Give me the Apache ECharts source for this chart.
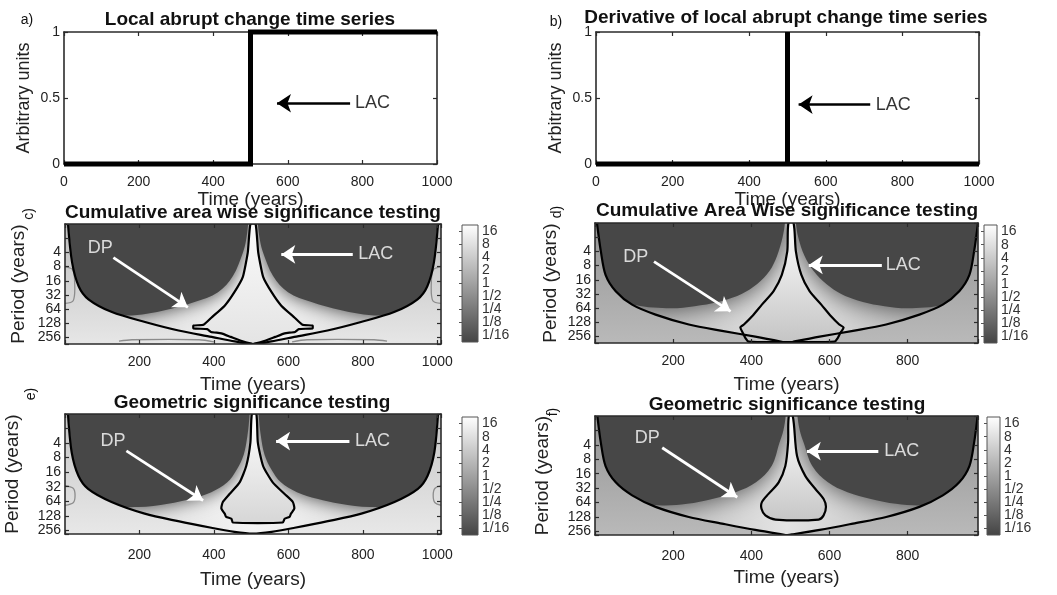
<!DOCTYPE html>
<html lang="en">
<head>
<meta charset="UTF-8">
<title>Local abrupt change - wavelet significance testing</title>
<script src="https://cdn.jsdelivr.net/npm/echarts@6/dist/echarts.min.js"></script>
<style>
    html, body { margin: 0; padding: 0; background: #fff; }
    #main { width: 1057px; height: 595px; }
</style>
</head>
<body>
<div id="main"></div>
<script>
// ---- values ----
// a) step series and b) its derivative (time in years)
var stepTime = [0, 500, 500, 1000];
var stepValue = [0, 0, 1, 1];
var spikeTime = [0, 500, 500, 500, 1000];
var spikeValue = [0, 0, 1, 0, 0];

// scalogram y = log2(period), labelled from 2 to 8
var periodLabels = ['4', '8', '16', '32', '64', '128', '256'];
// colour bar, log2(power) from -4 to 4
var powerLabels = ['1/16', '1/8', '1/4', '1/2', '1', '2', '4', '8', '16'];

// cone of influence [year, log2 period]
var coiC = [[8,0],[19,2.7],[37,4.4],[63,5.3],[126,6.2],[215,6.9],[305,7.5],[394,7.95],[456,8.27],[505,8.45],[554,8.27],[616,7.95],[705,7.5],[795,6.9],[884,6.2],[947,5.3],[973,4.4],[991,2.7],[1002,0]];
var coiD = [[5,0],[15,2.0],[27,3.65],[53,4.8],[95,5.75],[155,6.45],[240,7.15],[325,7.6],[410,8.0],[478,8.36],[492,8.45],[507,8.36],[575,8.0],[660,7.6],[745,7.15],[830,6.45],[890,5.75],[932,4.8],[958,3.65],[970,2.0],[980,0]];
var coiE = [[8,0],[18,2.65],[36,4.25],[62,5.15],[125,6.05],[214,6.85],[304,7.37],[393,7.82],[455,8.1],[505,8.22],[555,8.1],[617,7.82],[706,7.37],[796,6.85],[885,6.05],[948,5.15],[974,4.25],[992,2.65],[1002,0]];
var coiF = [[6,0],[15,1.86],[27,3.47],[53,4.6],[95,5.5],[155,6.3],[240,7.0],[325,7.46],[410,7.9],[478,8.2],[492,8.25],[507,8.2],[575,7.9],[660,7.46],[745,7.0],[830,6.3],[890,5.5],[932,4.6],[958,3.47],[970,1.86],[979,0]];

// significance contours (closed)
var sigC = [[498,0],[491,2.0],[478,3.7],[455,4.8],[429,5.75],[393,6.6],[372,7.1],[345,7.15],[345,7.35],[382,7.4],[392,7.6],[420,7.7],[445,7.95],[475,8.25],[505,8.45],[535,8.25],[565,7.95],[590,7.7],[618,7.6],[628,7.4],[665,7.35],[665,7.15],[638,7.1],[617,6.6],[581,5.75],[555,4.8],[532,3.7],[519,2.0],[512,0]];
var sigD = [[495,0],[492,2.0],[478,3.66],[457,4.8],[427,5.75],[402,6.57],[381,7.15],[372,7.34],[378,7.73],[385,8.1],[393,8.35],[500,8.38],[613,8.35],[621,8.1],[628,7.73],[636,7.36],[625,7.15],[604,6.57],[579,5.75],[549,4.8],[528,3.66],[514,2.0],[508,0]];
var sigE = [[502,0],[498,1.97],[487,3.56],[469,4.7],[442,5.5],[424,6.05],[420,6.5],[429,6.85],[433,7.07],[447,7.2],[451,7.46],[585,7.46],[590,7.2],[603,7.07],[607,6.85],[616,6.5],[612,6.05],[590,5.5],[558,4.7],[532,3.56],[518,1.97],[514,0]];
var sigF = [[496,0],[494,1.86],[487,3.47],[470,4.6],[444,5.4],[427,5.97],[426,6.43],[436,6.89],[462,7.18],[572,7.18],[585,6.89],[591,6.3],[585,5.75],[564,5.06],[538,4.15],[517,2.78],[506,0]];

// edge of the dark (1/16) lobes, left and right
var darkCL = [[-10,-0.5],[492,-0.5],[492,0],[486,1.2],[478,2.0],[451,3.66],[411,4.8],[348,5.5],[268,6.08],[187,6.43],[126,6.3],[81,5.75],[40,5.2],[-10,4.6]];
var darkCR = [[1020,-0.5],[518,-0.5],[518,0],[524,1.2],[532,2.0],[559,3.66],[599,4.8],[662,5.5],[742,6.08],[823,6.43],[884,6.3],[929,5.75],[970,5.2],[1020,4.6]];
var darkDL = [[-10,-0.5],[486,-0.5],[486,0],[480,1.0],[466,2.3],[446,3.4],[415,4.3],[375,5.0],[330,5.45],[270,5.8],[210,6.0],[150,5.95],[100,5.75],[55,5.3],[-10,4.6]];
var darkDR = [[990,-0.5],[514,-0.5],[514,0],[520,1.0],[536,2.3],[560,3.4],[592,4.3],[630,5.0],[672,5.45],[726,5.8],[784,6.0],[844,5.95],[894,5.75],[939,5.3],[990,4.6]];
var darkEL = [[-10,-0.5],[496,-0.5],[496,0],[490,1.5],[480,2.8],[462,3.8],[436,4.7],[393,5.38],[339,5.83],[277,6.17],[197,6.4],[124,6.3],[80,5.85],[35,5.0],[-10,4.5]];
var darkER = [[1020,-0.5],[520,-0.5],[520,0],[526,1.5],[536,2.8],[554,3.8],[580,4.7],[623,5.38],[677,5.83],[739,6.17],[819,6.4],[892,6.3],[936,5.85],[981,5.0],[1020,4.5]];
var darkFL = [[-10,-0.5],[488,-0.5],[488,0],[482,1.0],[472,1.86],[452,3.47],[412,4.6],[360,5.29],[300,5.75],[236,6.09],[172,6.2],[95,6.0],[53,5.3],[-10,4.4]];
var darkFR = [[990,-0.5],[518,-0.5],[518,0],[524,1.0],[534,1.86],[556,3.47],[596,4.6],[646,5.29],[706,5.75],[770,6.09],[834,6.2],[911,6.0],[953,5.3],[990,4.4]];

// faint grey contours
var greyC = [
    [[-5,3.0],[20,3.2],[26,4.1],[22,5.4],[-5,5.6]],
    [[1015,3.0],[990,3.2],[984,4.1],[988,5.4],[1015,5.6]],
    [[145,8.25],[180,8.15],[360,8.15],[400,8.3]],
    [[865,8.25],[830,8.15],[650,8.15],[610,8.3]]
];
var greyE = [
    [[-5,4.9],[22,5.1],[27,5.6],[22,6.1],[-5,6.3]],
    [[1015,4.9],[994,5.1],[989,5.6],[994,6.1],[1015,6.3]]
];

// annotation arrows [tail, head] and their labels
var arrowsA = [[[767,0.46],[571,0.46]]];
var labelsA = [{name: 'LAC', value: [827,0.46]}];
var arrowsB = [[[716,0.45],[529,0.45]]];
var labelsB = [{name: 'LAC', value: [776,0.45]}];
var arrowsC = [[[130,2.37],[330,5.87]], [[773,2.14],[581,2.14]]];
var labelsC = [{name: 'DP', value: [95,1.67]}, {name: 'LAC', value: [835,2.14]}];
var arrowsD = [[[151,2.72],[347,6.22]], [[734,2.95],[547,2.95]]];
var labelsD = [{name: 'DP', value: [104,2.37]}, {name: 'LAC', value: [789,2.95]}];
var arrowsE = [[[165,2.54],[371,5.95]], [[764,1.86],[567,1.86]]];
var labelsE = [{name: 'DP', value: [129,1.86]}, {name: 'LAC', value: [826,1.86]}];
var arrowsF = [[[172,2.2],[364,5.63]], [[725,2.44],[542,2.44]]];
var labelsF = [{name: 'DP', value: [134,1.52]}, {name: 'LAC', value: [785,2.44]}];

// ---- chart building ----
var FONT = '"Liberation Sans", Arial, sans-serif';
var DARK = '#474747';
var grid = [], xAxis = [], yAxis = [], series = [], graphic = [];

function vgrad(a, b) {
    return new echarts.graphic.LinearGradient(0, 0, 0, 1, [{offset: 0, color: a}, {offset: 1, color: b}]);
}
function hgrad(edge, mid) {
    return new echarts.graphic.LinearGradient(0, 0, 1, 0, [
        {offset: 0, color: edge}, {offset: 0.5, color: mid}, {offset: 1, color: edge}]);
}

function valueAxis(gi, pos, o, withLabels) {
    return {
        gridIndex: gi, type: 'value', position: pos, z: 10,
        min: o.min, max: o.max, interval: o.interval, inverse: !!o.inverse,
        splitLine: {show: false},
        axisLine: {show: true, onZero: false, lineStyle: {color: '#2b2b2b', width: 1.6}},
        axisTick: {show: true, inside: true, length: 4, lineStyle: {color: '#2b2b2b', width: 1.2}},
        axisLabel: withLabels ? {show: true, formatter: o.fmt, margin: o.margin, fontSize: 14, fontFamily: FONT, color: '#222'} : {show: false},
        name: withLabels ? o.name : '',
        nameLocation: 'middle', nameGap: o.nameGap,
        nameTextStyle: {fontSize: o.nameSize || 19, fontFamily: FONT, color: '#222'}
    };
}

function addPanel(box, xo, yo) {
    var gi = grid.length;
    grid.push({left: box[0], top: box[1], width: box[2], height: box[3]});
    var xi = xAxis.length, yi = yAxis.length;
    xAxis.push(valueAxis(gi, 'bottom', xo, true), valueAxis(gi, 'top', xo, false));
    yAxis.push(valueAxis(gi, 'left', yo, true), valueAxis(gi, 'right', yo, false));
    return {xAxisIndex: xi, yAxisIndex: yi};
}

function xFmt(lo, hi) {
    return function (v) { return (v % 200 === 0 && v >= lo && v <= hi) ? String(v) : ''; };
}
function periodFmt(v) {
    var i = v - 2;
    return (v % 1 === 0 && i >= 0 && i < periodLabels.length) ? periodLabels[i] : '';
}

// polygon / polyline through the axes
function shapeSeries(ax, pts, style, smooth, closed, z) {
    return Object.assign({
        type: 'custom', clip: true, silent: true, z: z, data: pts,
        renderItem: function (params, api) {
            if (params.dataIndex !== 0) return null;
            return {
                type: closed ? 'polygon' : 'polyline',
                shape: {points: pts.map(function (p) { return api.coord(p); }), smooth: smooth},
                style: style
            };
        }
    }, ax);
}

// fills the plotting rectangle (background of the scalogram)
function rectSeries(ax, fill, stroke, z) {
    return Object.assign({
        type: 'custom', silent: true, z: z, data: [[0, 0]],
        renderItem: function (params) {
            var cs = params.coordSys;
            return {type: 'rect', shape: {x: cs.x, y: cs.y, width: cs.width, height: cs.height},
                style: {fill: fill(), stroke: stroke || 'none', lineWidth: 1}};
        }
    }, ax);
}

function arrowSeries(ax, arrows, color, width) {
    return Object.assign({
        type: 'lines', coordinateSystem: 'cartesian2d', silent: true, z: 7,
        symbol: ['none', 'arrow'], symbolSize: 14,
        lineStyle: {color: color, width: width, opacity: 1, curveness: 0},
        data: arrows.map(function (a) { return {coords: a}; })
    }, ax);
}

function labelSeries(ax, labels, color) {
    return Object.assign({
        type: 'scatter', silent: true, z: 8, symbolSize: 1,
        itemStyle: {color: 'rgba(0,0,0,0)'},
        label: {show: true, position: 'inside', formatter: '{b}', color: color, fontSize: 18, fontFamily: FONT},
        data: labels
    }, ax);
}

function addColorbar(box) {
    var gi = grid.length;
    grid.push({left: box[0], top: box[1], width: box[2], height: box[3]});
    var xi = xAxis.length, yi = yAxis.length;
    xAxis.push({gridIndex: gi, type: 'value', min: 0, max: 1, show: false});
    yAxis.push({
        gridIndex: gi, type: 'category', data: powerLabels, position: 'right', z: 10,
        axisLine: {show: false}, splitLine: {show: false},
        axisTick: {show: true, inside: true, alignWithLabel: true, interval: 0, length: 3, lineStyle: {color: '#555'}},
        axisLabel: {interval: 0, margin: 4, fontSize: 14, fontFamily: FONT, color: '#333'}
    });
    series.push(rectSeries({xAxisIndex: xi, yAxisIndex: yi}, function () { return vgrad('#ffffff', '#444444'); }, '#555', 3));
}

function timeSeries(box, t, v, arrows, labels) {
    var ax = addPanel(box,
        {min: 0, max: 1000, interval: 200, fmt: xFmt(0, 1000), margin: 11, name: 'Time (years)', nameGap: 24},
        {min: 0, max: 1, interval: 0.5, margin: 4, name: 'Arbitrary units', nameGap: 31, nameSize: 18});
    series.push(Object.assign({
        type: 'line', clip: false, z: 12, symbol: 'none', silent: true,
        lineStyle: {color: '#000', width: 5, join: 'miter'},
        data: t.map(function (x, i) { return [x, v[i]]; })
    }, ax));
    series.push(arrowSeries(ax, arrows, '#000', 2.5));
    series.push(labelSeries(ax, labels, '#000'));
}

function scalogram(box, xMax, yMax, showMax, d) {
    var ax = addPanel(box,
        {min: 0, max: xMax, interval: 200, fmt: xFmt(200, showMax), margin: d.margin, name: 'Time (years)', nameGap: d.xGap},
        {min: 0, max: yMax, interval: 1, inverse: true, fmt: periodFmt, margin: 4, name: 'Period (years)', nameGap: d.yGap});
    var light = d.light;
    // power inside the cone of influence
    series.push(rectSeries(ax, function () { return hgrad(light[0], light[1]); }, null, 1));
    series.push(shapeSeries(ax, d.darkL, {fill: DARK, shadowBlur: d.blur, shadowColor: DARK}, 0.35, true, 2));
    series.push(shapeSeries(ax, d.darkR, {fill: DARK, shadowBlur: d.blur, shadowColor: DARK}, 0.35, true, 2));
    // region outside the cone of influence
    var outside = [[-10, -0.5]].concat(d.coi, [[xMax + 10, -0.5], [xMax + 10, yMax + 0.5], [-10, yMax + 0.5]]);
    series.push(shapeSeries(ax, outside, {fill: vgrad(d.out[0], d.out[1])}, 0.3, true, 3));
    (d.grey || []).forEach(function (g) {
        series.push(shapeSeries(ax, g, {fill: 'none', stroke: '#8c8c8c', lineWidth: 1.3}, 0.3, false, 4));
    });
    // significance contour and cone of influence
    series.push(shapeSeries(ax, d.sig, {fill: vgrad(d.sigFill[0], d.sigFill[1]), stroke: '#000', lineWidth: 2.2}, d.sigSmooth, true, 5));
    series.push(shapeSeries(ax, d.coi, {fill: 'none', stroke: '#000', lineWidth: 2.2}, 0.3, false, 6));
    series.push(arrowSeries(ax, d.arrows, '#fff', 2.8));
    series.push(labelSeries(ax, d.labels, '#fff'));
}

function addText(txt, x, y, font, rot) {
    graphic.push({
        type: 'text', x: x, y: y, rotation: rot || 0, z: 100, silent: true,
        style: {text: txt, x: 0, y: 0, font: font, fill: '#111', textAlign: 'center', textVerticalAlign: 'middle'}
    });
}

// a) and b)
timeSeries([64, 32, 373, 132], stepTime, stepValue, arrowsA, labelsA);
timeSeries([596, 32, 383, 132], spikeTime, spikeValue, arrowsB, labelsB);

// c) d) e) f)
scalogram([65, 224, 376, 120], 1010, 8.45, 1000, {
    coi: coiC, sig: sigC, darkL: darkCL, darkR: darkCR, grey: greyC, arrows: arrowsC, labels: labelsC,
    light: ['#d2d2d2', '#f4f4f4'], out: ['#bcbcbc', '#f0f0f0'], sigFill: ['#fafafa', '#e4e4e4'], sigSmooth: 0.15,
    blur: 18, margin: 11, xGap: 31, yGap: 37
});
scalogram([595, 223, 383, 120], 980, 8.45, 800, {
    coi: coiD, sig: sigD, darkL: darkDL, darkR: darkDR, arrows: arrowsD, labels: labelsD,
    light: ['#ababab', '#e4e4e4'], out: ['#939393', '#c2c2c2'], sigFill: ['#ffffff', '#c4c4c4'], sigSmooth: 0.25,
    blur: 26, margin: 11, xGap: 32, yGap: 35
});
scalogram([65, 414, 376, 120], 1010, 8.25, 1000, {
    coi: coiE, sig: sigE, darkL: darkEL, darkR: darkER, grey: greyE, arrows: arrowsE, labels: labelsE,
    light: ['#d2d2d2', '#f4f4f4'], out: ['#c4c4c4', '#f0f0f0'], sigFill: ['#ffffff', '#d6d6d6'], sigSmooth: 0.2,
    blur: 18, margin: 14, xGap: 36, yGap: 43
});
scalogram([595, 416, 383, 119], 980, 8.25, 800, {
    coi: coiF, sig: sigF, darkL: darkFL, darkR: darkFR, arrows: arrowsF, labels: labelsF,
    light: ['#ababab', '#e4e4e4'], out: ['#939393', '#c2c2c2'], sigFill: ['#ffffff', '#c6c6c6'], sigSmooth: 0.3,
    blur: 26, margin: 14, xGap: 33, yGap: 43
});

// colour bars
addColorbar([462, 225, 16, 117]);
addColorbar([984, 225, 13, 118]);
addColorbar([462, 417, 16, 118]);
addColorbar([987, 417, 13, 118]);

// titles and panel letters
var TITLE = 'bold 19px ' + FONT;
addText('Local abrupt change time series', 250, 20, TITLE);
addText('Derivative of local abrupt change time series', 786, 18, TITLE);
addText('Cumulative area wise significance testing', 253, 213, TITLE);
addText('Cumulative Area Wise significance testing', 787, 211, TITLE);
addText('Geometric significance testing', 252, 403, TITLE);
addText('Geometric significance testing', 787, 405, TITLE);
var LETTER = '14px ' + FONT;
addText('a)', 27, 20, LETTER);
addText('b)', 556, 22, LETTER);
addText('c)', 29, 214, LETTER, Math.PI / 2);
addText('d)', 557, 212, LETTER, Math.PI / 2);
addText('e)', 31, 394, LETTER, Math.PI / 2);
addText('f)', 553, 412, LETTER, Math.PI / 2);

var chart = echarts.init(document.getElementById('main'));
chart.setOption({
    animation: false,
    backgroundColor: '#fff',
    grid: grid,
    xAxis: xAxis,
    yAxis: yAxis,
    series: series,
    graphic: graphic
});
</script>
</body>
</html>
